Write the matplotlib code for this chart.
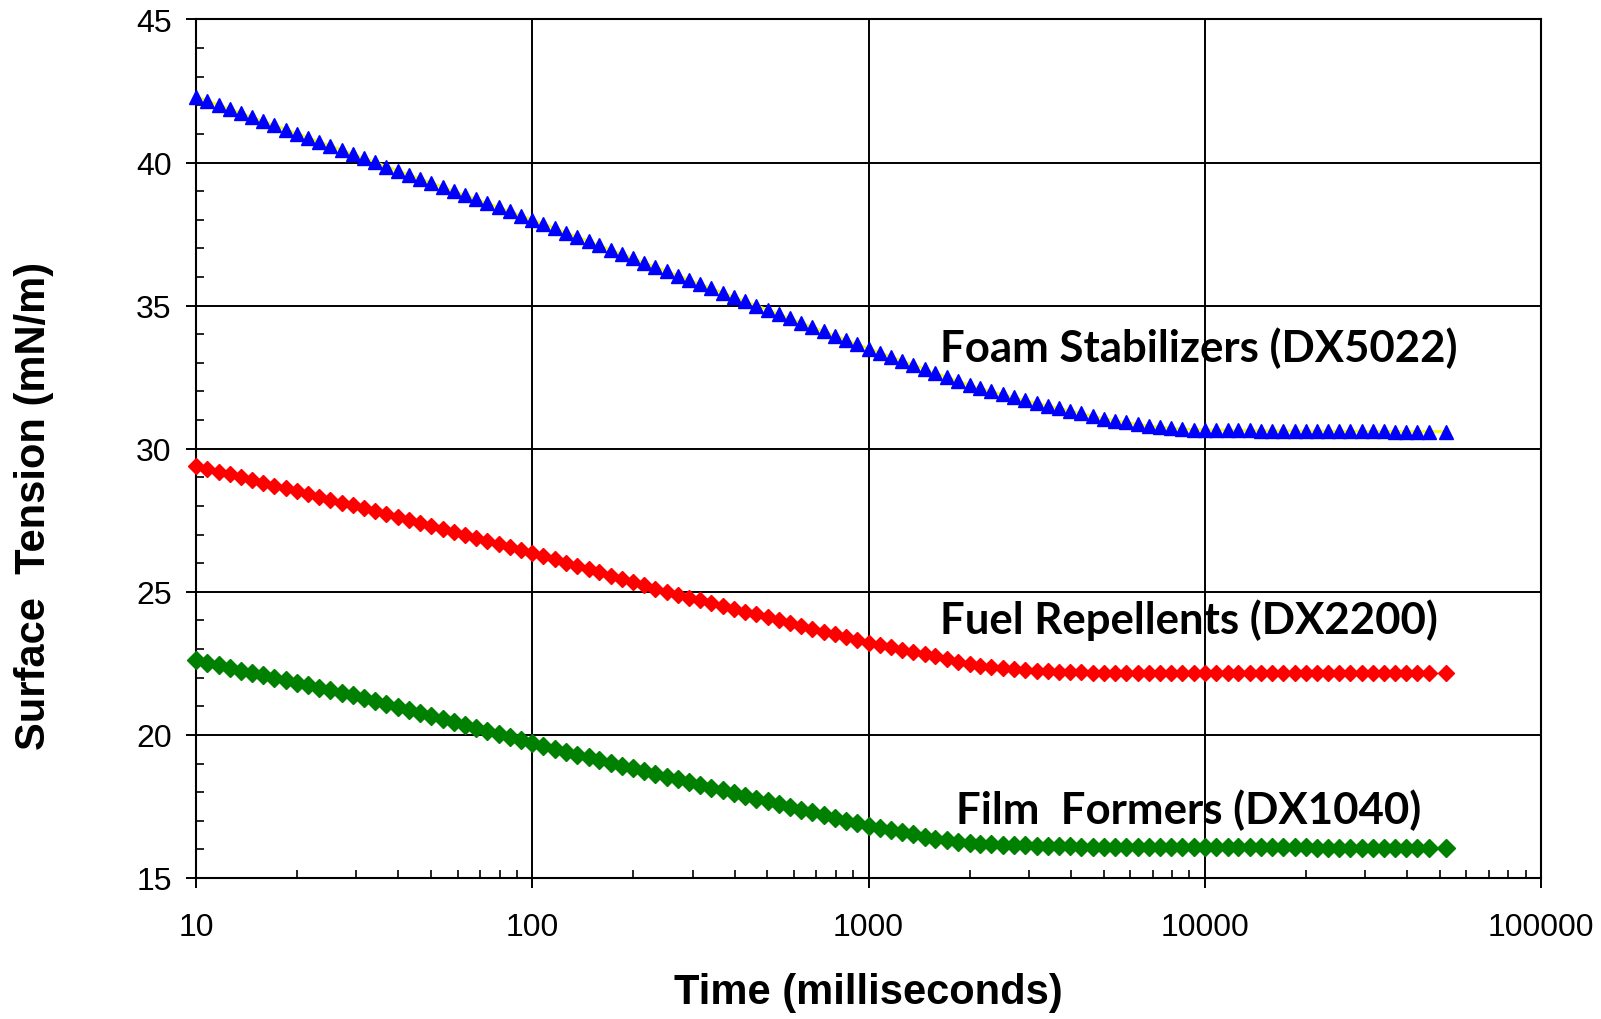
import matplotlib
matplotlib.use("Agg")
import matplotlib.pyplot as plt
from matplotlib.ticker import LogLocator, MultipleLocator, FixedLocator, NullFormatter

# ---------------- data ----------------
time_ms = [
    10.0, 10.8, 11.7, 12.6, 13.6, 14.7, 15.8, 17.1, 18.5, 20.0,
    21.5, 23.2, 25.1, 27.1, 29.3, 31.6, 34.1, 36.8, 39.8, 42.9,
    46.4, 50.1, 54.1, 58.4, 63.1, 68.1, 73.6, 79.4, 85.8, 92.6,
    100, 108, 117, 126, 136, 147, 158, 171, 185, 200,
    215, 232, 251, 271, 293, 316, 341, 368, 398, 429,
    464, 501, 541, 584, 631, 681, 736, 794, 858, 926,
    1000, 1080, 1170, 1260, 1360, 1470, 1580, 1710, 1850, 2000,
    2150, 2320, 2510, 2710, 2930, 3160, 3410, 3680, 3980, 4290,
    4640, 5010, 5410, 5840, 6310, 6810, 7360, 7940, 8580, 9260,
    10000, 10800, 11700, 12600, 13600, 14700, 15800, 17100, 18500, 20000,
    21500, 23200, 25100, 27100, 29300, 31600, 34100, 36800, 39800, 42900,
    46400, 52000,
]

foam_dx5022 = [
    42.30, 42.16, 42.01, 41.87, 41.73, 41.58, 41.44, 41.30, 41.15, 41.01,
    40.87, 40.72, 40.58, 40.44, 40.29, 40.15, 40.01, 39.86, 39.72, 39.58,
    39.43, 39.29, 39.15, 39.00, 38.86, 38.72, 38.57, 38.43, 38.29, 38.14,
    38.00, 37.85, 37.70, 37.55, 37.40, 37.25, 37.10, 36.95, 36.80, 36.65,
    36.50, 36.35, 36.20, 36.05, 35.90, 35.75, 35.60, 35.45, 35.30, 35.15,
    35.00, 34.85, 34.70, 34.55, 34.40, 34.25, 34.10, 33.95, 33.80, 33.65,
    33.50, 33.36, 33.21, 33.07, 32.93, 32.78, 32.64, 32.50, 32.36, 32.22,
    32.11, 32.00, 31.90, 31.79, 31.69, 31.59, 31.50, 31.41, 31.32, 31.23,
    31.14, 31.05, 30.98, 30.92, 30.86, 30.80, 30.75, 30.72, 30.69, 30.67,
    30.66, 30.65, 30.65, 30.64, 30.64, 30.63, 30.63, 30.63, 30.62, 30.62,
    30.62, 30.62, 30.61, 30.61, 30.61, 30.61, 30.61, 30.60, 30.60, 30.60,
    30.60, 30.60,
]

fuel_dx2200 = [
    29.40, 29.30, 29.20, 29.11, 29.01, 28.91, 28.81, 28.71, 28.61, 28.52,
    28.42, 28.32, 28.22, 28.12, 28.02, 27.93, 27.82, 27.72, 27.61, 27.51,
    27.40, 27.30, 27.19, 27.09, 26.98, 26.88, 26.77, 26.67, 26.56, 26.46,
    26.35, 26.24, 26.13, 26.01, 25.90, 25.79, 25.68, 25.56, 25.45, 25.34,
    25.23, 25.11, 25.00, 24.90, 24.80, 24.70, 24.60, 24.50, 24.41, 24.31,
    24.21, 24.11, 24.01, 23.91, 23.81, 23.71, 23.61, 23.52, 23.42, 23.32,
    23.22, 23.14, 23.06, 22.98, 22.90, 22.82, 22.74, 22.66, 22.55, 22.48,
    22.42, 22.37, 22.33, 22.30, 22.27, 22.25, 22.23, 22.21, 22.20, 22.19,
    22.18, 22.17, 22.17, 22.16, 22.16, 22.15, 22.15, 22.15, 22.15, 22.15,
    22.15, 22.15, 22.15, 22.15, 22.15, 22.15, 22.15, 22.15, 22.15, 22.15,
    22.15, 22.15, 22.15, 22.15, 22.15, 22.15, 22.15, 22.15, 22.15, 22.15,
    22.15, 22.15,
]

film_dx1040 = [
    22.60, 22.51, 22.43, 22.34, 22.25, 22.17, 22.08, 21.99, 21.91, 21.82,
    21.73, 21.65, 21.56, 21.47, 21.39, 21.30, 21.19, 21.09, 20.98, 20.87,
    20.77, 20.66, 20.55, 20.45, 20.34, 20.23, 20.13, 20.02, 19.91, 19.81,
    19.70, 19.60, 19.51, 19.41, 19.31, 19.22, 19.12, 19.03, 18.93, 18.83,
    18.74, 18.64, 18.54, 18.45, 18.35, 18.26, 18.16, 18.06, 17.97, 17.87,
    17.77, 17.68, 17.58, 17.48, 17.39, 17.29, 17.20, 17.10, 17.00, 16.91,
    16.82, 16.75, 16.67, 16.60, 16.53, 16.45, 16.38, 16.32, 16.27, 16.23,
    16.20, 16.18, 16.16, 16.15, 16.14, 16.13, 16.12, 16.11, 16.11, 16.10,
    16.10, 16.10, 16.10, 16.09, 16.09, 16.09, 16.09, 16.09, 16.08, 16.08,
    16.08, 16.08, 16.08, 16.08, 16.08, 16.07, 16.07, 16.07, 16.07, 16.07,
    16.06, 16.06, 16.06, 16.06, 16.06, 16.06, 16.06, 16.05, 16.05, 16.05,
    16.05, 16.05,
]

y_ticks = [15, 20, 25, 30, 35, 40, 45]
x_ticks = [10, 100, 1000, 10000, 100000]
x_ticklabels = ["10", "100", "1000", "10000", "100000"]

labels = ["Foam Stabilizers (DX5022)", "Fuel Repellents (DX2200)", "Film  Formers (DX1040)"]
label_x = [1637, 1637, 1815]
label_y = [33.55, 24.05, 17.4]

# ---------------- figure ----------------
plt.rcParams['font.family'] = ['Liberation Sans', 'DejaVu Sans']

fig = plt.figure(figsize=(16.01, 10.20), dpi=100)
ax = fig.add_axes([196/1601, 141/1020, (1541-196)/1601, (879-20.4)/1020])

ax.set_xscale('log')
ax.set_xlim(10, 100000)
ax.set_ylim(15, 45)

ax.plot(time_ms, foam_dx5022, color='#FFFF00', lw=2, zorder=3)
ax.plot(time_ms, foam_dx5022, ls='none', marker='^', ms=10.5, color='#0000FF',
        mec='#0000FF', zorder=4, clip_on=False)
ax.plot(time_ms, fuel_dx2200, ls='none', marker='D', ms=8.5, color='#FF0000',
        mec='#FF0000', zorder=4, clip_on=False)
ax.plot(time_ms, film_dx1040, ls='none', marker='D', ms=9.5, color='#008000',
        mec='#008000', zorder=4, clip_on=False)

# grid
ax.grid(True, which='major', color='black', lw=1.4, zorder=1)
ax.set_axisbelow(True)

# ticks
ax.yaxis.set_major_locator(FixedLocator(y_ticks))
ax.yaxis.set_minor_locator(MultipleLocator(1))
ax.xaxis.set_major_locator(FixedLocator(x_ticks))
ax.xaxis.set_minor_locator(LogLocator(base=10, subs=[2, 3, 4, 5, 6, 7, 8, 9]))
ax.xaxis.set_minor_formatter(NullFormatter())
ax.set_xticklabels(x_ticklabels)

ax.tick_params(axis='both', which='major', direction='out', length=7.5, width=1.4,
               labelsize=23, color='black')
ax.tick_params(axis='y', which='major', pad=10)
ax.tick_params(axis='x', which='major', pad=17)
ax.tick_params(axis='both', which='minor', direction='in', length=6, width=1.2)

for s in ax.spines.values():
    s.set_linewidth(1.5)
    s.set_color('black')

fig.text(868/1601, 1 - 993/1020, "Time (milliseconds)", fontsize=30, fontweight='bold',
         ha='center', va='center')
fig.text(34/1601, 1 - 506/1020, "Surface  Tension (mN/m)", fontsize=30, fontweight='bold',
         ha='center', va='center', rotation=90)

for lbl, lx, ly in zip(labels, label_x, label_y):
    ax.text(lx, ly, lbl, fontsize=31.5, family=['Lato', 'DejaVu Sans'], fontweight='bold',
            ha='left', va='center', zorder=5)

fig.savefig("out.png", dpi=100)
